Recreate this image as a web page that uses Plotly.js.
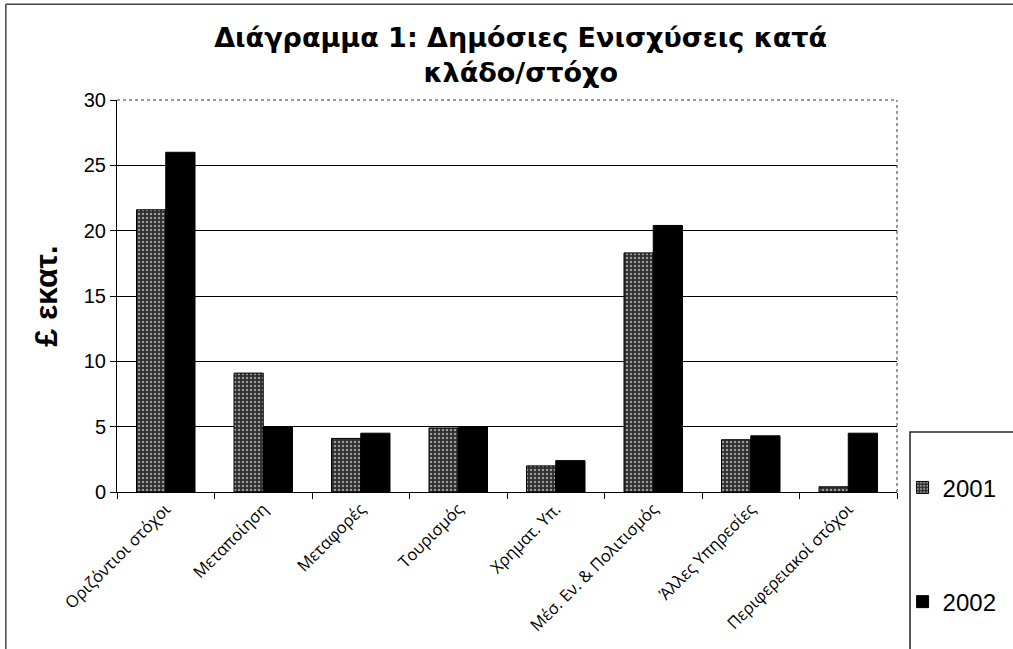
<!DOCTYPE html>
<html>
<head>
<meta charset="utf-8">
<script src="https://cdn.plot.ly/plotly-3.0.1.min.js"></script>
<style>html,body{margin:0;padding:0;background:#fff;}#chart{width:1013px;height:649px;}</style>
</head>
<body>
<div id="chart"></div>
<script>
const categories = ["Οριζόντιοι στόχοι", "Μεταποίηση", "Μεταφορές", "Τουρισμός", "Χρηματ. Υπ.", "Μέσ. Εν. & Πολιτισμός", "Άλλες Υπηρεσίες", "Περιφερειακοί στόχοι"];
const values2001 = [21.6, 9.1, 4.1, 4.9, 2.0, 18.3, 4.0, 0.4];
const values2002 = [26.0, 5.0, 4.5, 5.0, 2.4, 20.4, 4.3, 4.5];
const seriesNames = ["2001", "2002"];
const yTicks = [0, 5, 10, 15, 20, 25, 30];

const traces = [
  {
    type: "bar", name: seriesNames[0], x: categories, y: values2001,
    legendgroup: "a",
    marker: {color: "#3a3a3a", line: {color: "#000", width: 1},
             pattern: {shape: ".", fgcolor: "#9a9a9a", bgcolor: "#2e2e2e", size: 4, solidity: 0.3}}
  },
  {
    type: "bar", name: seriesNames[1], x: categories, y: values2002,
    legendgroup: "b",
    marker: {color: "#000", line: {color: "#000", width: 1}}
  }
];

const layout = {
  width: 1013, height: 649,
  margin: {l: 117, r: 116, t: 100, b: 157},
  paper_bgcolor: "#fff", plot_bgcolor: "#fff",
  font: {family: "Liberation Sans, Arial, sans-serif", color: "#000"},
  title: {
    text: "<b>Διάγραμμα 1: Δημόσιες Ενισχύσεις κατά<br>κλάδο/στόχο</b>",
    font: {size: 27, family: "DejaVu Sans, Liberation Sans, sans-serif", color: "#000"},
    x: 0.514, xanchor: "center", xref: "container",
    y: 0.928, yanchor: "middle", yref: "container"
  },
  barmode: "group",
  bargap: 0.4,
  bargroupgap: 0,
  xaxis: {
    type: "category",
    tickangle: -45,
    tickson: "boundaries",
    ticks: "outside", ticklen: 6, tickcolor: "#000",
    showgrid: false,
    showline: true, linecolor: "#000", linewidth: 1,
    tickfont: {size: 16.5, family: "Open Sans, DejaVu Sans, sans-serif", color: "#000"},
    fixedrange: true
  },
  yaxis: {
    range: [0, 30],
    tickvals: yTicks,
    ticks: "outside", ticklen: 6, tickcolor: "#000",
    showgrid: true, gridcolor: "#000", gridwidth: 1,
    showline: true, linecolor: "#000", linewidth: 1,
    zeroline: false,
    tickfont: {size: 20, color: "#000"},
    title: {text: "<b>£ εκατ.</b>", font: {size: 32, color: "#000"}, standoff: 16},
    fixedrange: true
  },
  showlegend: true,
  legend: {
    xref: "container", yref: "container",
    x: 0.891, xanchor: "left", y: 0.283, yanchor: "top",
    font: {size: 24, color: "#000"},
    tracegroupgap: 80,
    bgcolor: "rgba(0,0,0,0)",
    itemclick: false
  },
  shapes: [
    // plot area dotted border (top/right)
    {type: "line", xref: "paper", yref: "paper", x0: 0, x1: 1, y0: 1, y1: 1, line: {color: "#333", width: 1, dash: "dot"}},
    {type: "line", xref: "paper", yref: "paper", x0: 1, x1: 1, y0: 0, y1: 1, line: {color: "#333", width: 1, dash: "dot"}},
    // outer frame
    {type: "line", xref: "paper", yref: "paper", x0: -0.1425, x1: -0.1425, y0: -0.41, y1: 1.244, line: {color: "#444", width: 1.5}},
    {type: "line", xref: "paper", yref: "paper", x0: -0.1425, x1: 1.16, y0: 1.244, y1: 1.244, line: {color: "#444", width: 1.5}},
    // legend box
    {type: "rect", xref: "paper", yref: "paper", x0: 1.0167, x1: 1.2, y0: -0.41, y1: 0.1531, line: {color: "#222", width: 1.5}, fillcolor: "rgba(0,0,0,0)"}
  ]
};

Plotly.newPlot("chart", traces, layout, {displayModeBar: false, staticPlot: true});
</script>
</body>
</html>
